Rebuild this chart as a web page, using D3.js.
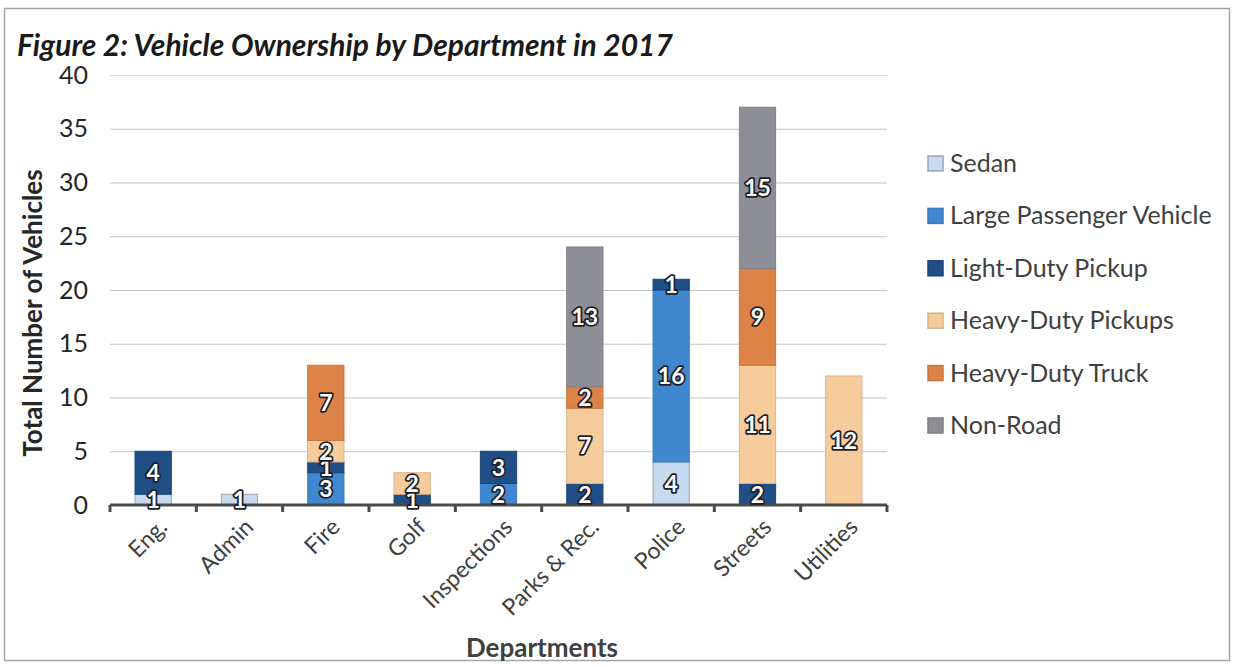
<!DOCTYPE html>
<html>
<head>
<meta charset="utf-8">
<script src="https://cdn.jsdelivr.net/npm/d3@7"></script>
<style>
  body { margin: 0; background: #fff; }
  text { font-family: Lato, "Open Sans", sans-serif; }
</style>
</head>
<body>
<svg id="chart" width="1235" height="667"></svg>
<script>
// departments along the x axis
var departments = ["Eng.", "Admin", "Fire", "Golf", "Inspections", "Parks & Rec.", "Police", "Streets", "Utilities"];

// one array per vehicle type, same order as departments
var sedan          = [1, 1, 0, 0, 0, 0, 4, 0, 0];
var largePassenger = [0, 0, 3, 0, 2, 0, 16, 0, 0];
var lightPickup    = [4, 0, 1, 1, 3, 2, 1, 2, 0];
var heavyPickups   = [0, 0, 2, 2, 0, 7, 0, 11, 12];
var heavyTruck     = [0, 0, 7, 0, 0, 2, 0, 9, 0];
var nonRoad        = [0, 0, 0, 0, 0, 13, 0, 15, 0];

var seriesNames = ["Sedan", "Large Passenger Vehicle", "Light-Duty Pickup", "Heavy-Duty Pickups", "Heavy-Duty Truck", "Non-Road"];
var seriesValues = [sedan, largePassenger, lightPickup, heavyPickups, heavyTruck, nonRoad];
var seriesColors = ["#c6dbf0", "#3f88d0", "#1f4f86", "#f6cc9c", "#de8348", "#8e8e96"];
var seriesStroke = ["#9aa6b4", "#3a7cbf", "#1b4577", "#d8b48c", "#c9753f", "#7f7f87"];

var yTicks = [0, 5, 10, 15, 20, 25, 30, 35, 40];

var svg = d3.select("#chart");

// frame round the figure
svg.append("rect")
  .attr("x", 4.5).attr("y", 8.5)
  .attr("width", 1225).attr("height", 652)
  .attr("fill", "none")
  .attr("stroke", "#a6a6a6")
  .attr("stroke-width", 1.5);

var plot = {left: 110, right: 887, top: 75, bottom: 505};

var x = d3.scaleBand()
  .domain(departments)
  .range([plot.left, plot.right])
  .paddingInner(0.58)
  .paddingOuter(0.29);

var y = d3.scaleLinear()
  .domain([0, 40])
  .range([plot.bottom, plot.top]);

// build stack table
var table = departments.map(function(d, i) {
  var row = {dept: d};
  seriesNames.forEach(function(s, j) { row[s] = seriesValues[j][i]; });
  return row;
});
var stacked = d3.stack().keys(seriesNames)(table);

// gridlines
svg.append("g")
  .selectAll("line")
  .data(yTicks.filter(function(t) { return t > 0; }))
  .enter().append("line")
  .attr("x1", plot.left).attr("x2", plot.right)
  .attr("y1", function(d) { return y(d) + 0.5; })
  .attr("y2", function(d) { return y(d) + 0.5; })
  .attr("stroke", function(d) { return d == 40 ? "#dddddd" : "#c4c4c4"; })
  .attr("stroke-width", 1.2);

// y axis labels (no axis line)
var yAxis = d3.axisLeft(y).tickValues(yTicks).tickSize(0).tickPadding(0);
var yg = svg.append("g")
  .attr("transform", "translate(" + 88 + ",0)")
  .call(yAxis);
yg.select(".domain").remove();
yg.selectAll("text")
  .attr("font-size", 25)
  .attr("fill", "#262626")
  .style("font-family", "Lato, sans-serif");

// bars
var layers = svg.append("g")
  .selectAll("g")
  .data(stacked)
  .enter().append("g")
  .attr("fill", function(d, i) { return seriesColors[i]; })
  .attr("stroke", function(d, i) { return seriesStroke[i]; });

layers.selectAll("rect")
  .data(function(d) { return d.filter(function(p) { return p[1] - p[0] > 0; }); })
  .enter().append("rect")
  .attr("x", function(d) { return x(d.data.dept); })
  .attr("width", x.bandwidth())
  .attr("y", function(d) { return y(d[1]); })
  .attr("height", function(d) { return y(d[0]) - y(d[1]); })
  .attr("stroke-width", 1);

// x axis with ticks between categories
var xg = svg.append("g");
xg.append("line")
  .attr("x1", plot.left).attr("x2", plot.right)
  .attr("y1", plot.bottom).attr("y2", plot.bottom)
  .attr("stroke", "#4a4a4a")
  .attr("stroke-width", 3);
var boundaries = departments.map(function(d) { return x(d) - x.step() * x.paddingInner() / 2; });
boundaries.push(plot.right);
xg.selectAll(".tk")
  .data(boundaries)
  .enter().append("line")
  .attr("class", "tk")
  .attr("x1", function(d) { return d; }).attr("x2", function(d) { return d; })
  .attr("y1", plot.bottom).attr("y2", plot.bottom + 7)
  .attr("stroke", "#4a4a4a")
  .attr("stroke-width", 3);

// category labels rotated
svg.append("g")
  .selectAll("text")
  .data(departments)
  .enter().append("text")
  .attr("transform", function(d) {
    return "translate(" + (x(d) + x.bandwidth() / 2 + 4) + "," + (plot.bottom + 12) + ") rotate(-45)";
  })
  .attr("text-anchor", "end")
  .attr("dy", "0.7em")
  .attr("font-size", 23)
  .attr("fill", "#404040")
  .text(function(d) { return d; });

// data labels
var labels = [];
stacked.forEach(function(layer) {
  layer.forEach(function(p) {
    if (p[1] - p[0] > 0) labels.push({dept: p.data.dept, v: p[1] - p[0], mid: (p[0] + p[1]) / 2});
  });
});
svg.append("g")
  .selectAll("text")
  .data(labels)
  .enter().append("text")
  .attr("x", function(d) { return x(d.dept) + x.bandwidth() / 2; })
  .attr("y", function(d) { return y(d.mid); })
  .attr("dy", "0.36em")
  .attr("text-anchor", "middle")
  .attr("font-size", 23)
  .attr("font-weight", "bold")
  .attr("fill", "#ffffff")
  .attr("stroke", "#1e1e24")
  .attr("stroke-width", 3.5)
  .attr("stroke-linejoin", "round")
  .style("paint-order", "stroke")
  .text(function(d) { return d.v; });

// title
svg.append("text")
  .attr("x", 17).attr("y", 56)
  .attr("font-size", 30)
  .attr("font-weight", "bold")
  .attr("font-style", "italic")
  .attr("fill", "#1a1a1a")
  .text("Figure 2: Vehicle Ownership by Department in 2017");

// axis titles
svg.append("text")
  .attr("transform", "translate(42,313) rotate(-90)")
  .attr("text-anchor", "middle")
  .attr("font-size", 26)
  .attr("font-weight", "bold")
  .attr("fill", "#262626")
  .text("Total Number of Vehicles");

svg.append("text")
  .attr("x", 542).attr("y", 657)
  .attr("text-anchor", "middle")
  .attr("font-size", 26)
  .attr("font-weight", "bold")
  .attr("fill", "#404040")
  .text("Departments");

// legend
var legend = svg.append("g")
  .selectAll("g")
  .data(seriesNames)
  .enter().append("g")
  .attr("transform", function(d, i) { return "translate(928," + (163 + i * 52.4) + ")"; });
legend.append("rect")
  .attr("x", 0).attr("y", -7)
  .attr("width", 15).attr("height", 15)
  .attr("fill", function(d, i) { return seriesColors[i]; })
  .attr("stroke", function(d, i) { return seriesStroke[i]; })
  .attr("stroke-width", 1.5);
legend.append("text")
  .attr("x", 22).attr("dy", "0.36em")
  .attr("font-size", 25)
  .attr("fill", "#404040")
  .text(function(d) { return d; });
</script>
</body>
</html>
